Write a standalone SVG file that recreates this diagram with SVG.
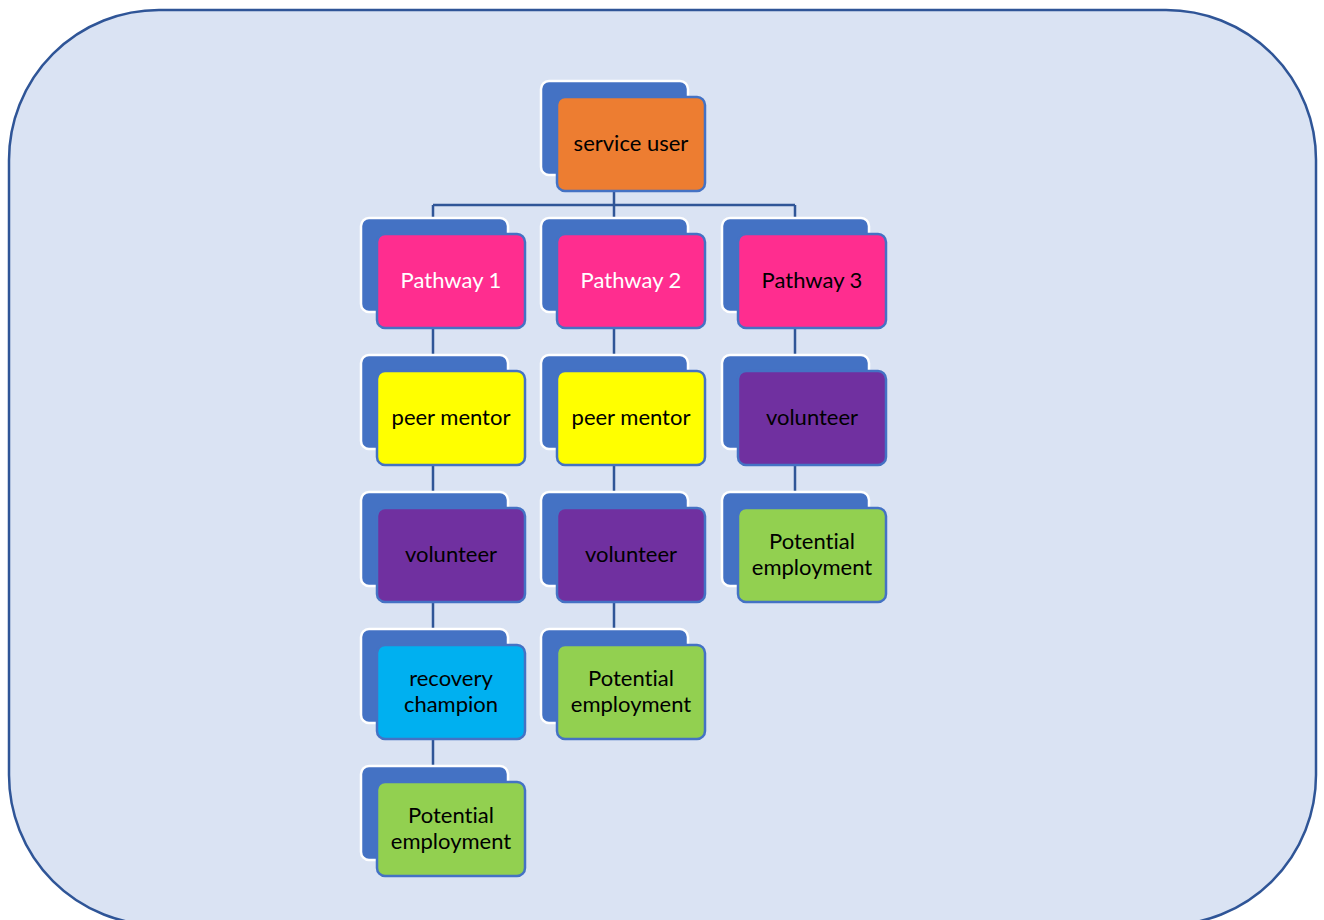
<svg xmlns="http://www.w3.org/2000/svg" width="1324" height="920" viewBox="0 0 1324 920">
<style>
.bg{fill:#DAE3F3;stroke:#2F5597;stroke-width:2.5}
.back{fill:#4472C4;stroke:#FFFFFF;stroke-width:2.5}
.front{stroke:#4472C4;stroke-width:2.5}
.conn{stroke:#2F5597;stroke-width:2.5;fill:none}
text{font-family:Lato,"Open Sans",sans-serif;font-size:22px;text-anchor:middle;dominant-baseline:central;font-variant-ligatures:none;fill:#000}
.w{fill:#FFFFFF}
</style>
<defs>
<g id="backbox"><rect class="back" x="0" y="0" width="147" height="94" rx="8"/></g>
</defs>
<rect class="bg" x="9" y="10" width="1307" height="915" rx="150"/>
<g id="connectors">
<path class="conn" d="M614 191V205M433 205H795M433 205V218M614 205V218M795 205V218"/>
<path class="conn" d="M433 328V355M433 465V492M433 602V629M433 739V766"/>
<path class="conn" d="M614 328V355M614 465V492M614 602V629"/>
<path class="conn" d="M795 328V355M795 465V492"/>
</g>
<g id="n-service-user"><use href="#backbox" x="541" y="81"/><rect class="front" x="557" y="97" width="148" height="94" rx="8" fill="#ED7D31"/><text x="631" y="142">service user</text></g>
<g id="n-pathway1"><use href="#backbox" x="361" y="218"/><rect class="front" x="377" y="234" width="148" height="94" rx="8" fill="#FF2D8F"/><text class="w" x="451" y="279">Pathway 1</text></g>
<g id="n-pathway2"><use href="#backbox" x="541" y="218"/><rect class="front" x="557" y="234" width="148" height="94" rx="8" fill="#FF2D8F"/><text class="w" x="631" y="279">Pathway 2</text></g>
<g id="n-pathway3"><use href="#backbox" x="722" y="218"/><rect class="front" x="738" y="234" width="148" height="94" rx="8" fill="#FF2D8F"/><text x="812" y="279">Pathway 3</text></g>
<g id="n-peer1"><use href="#backbox" x="361" y="355"/><rect class="front" x="377" y="371" width="148" height="94" rx="8" fill="#FFFF00"/><text x="451" y="416">peer mentor</text></g>
<g id="n-peer2"><use href="#backbox" x="541" y="355"/><rect class="front" x="557" y="371" width="148" height="94" rx="8" fill="#FFFF00"/><text x="631" y="416">peer mentor</text></g>
<g id="n-vol3"><use href="#backbox" x="722" y="355"/><rect class="front" x="738" y="371" width="148" height="94" rx="8" fill="#7030A0"/><text x="812" y="416">volunteer</text></g>
<g id="n-vol1"><use href="#backbox" x="361" y="492"/><rect class="front" x="377" y="508" width="148" height="94" rx="8" fill="#7030A0"/><text x="451" y="553">volunteer</text></g>
<g id="n-vol2"><use href="#backbox" x="541" y="492"/><rect class="front" x="557" y="508" width="148" height="94" rx="8" fill="#7030A0"/><text x="631" y="553">volunteer</text></g>
<g id="n-emp3"><use href="#backbox" x="722" y="492"/><rect class="front" x="738" y="508" width="148" height="94" rx="8" fill="#92D050"/><text x="812" y="540">Potential</text><text x="812" y="566">employment</text></g>
<g id="n-rec1"><use href="#backbox" x="361" y="629"/><rect class="front" x="377" y="645" width="148" height="94" rx="8" fill="#00B0F0"/><text x="451" y="677">recovery</text><text x="451" y="703">champion</text></g>
<g id="n-emp2"><use href="#backbox" x="541" y="629"/><rect class="front" x="557" y="645" width="148" height="94" rx="8" fill="#92D050"/><text x="631" y="677">Potential</text><text x="631" y="703">employment</text></g>
<g id="n-emp1"><use href="#backbox" x="361" y="766"/><rect class="front" x="377" y="782" width="148" height="94" rx="8" fill="#92D050"/><text x="451" y="814">Potential</text><text x="451" y="840">employment</text></g>
</svg>
